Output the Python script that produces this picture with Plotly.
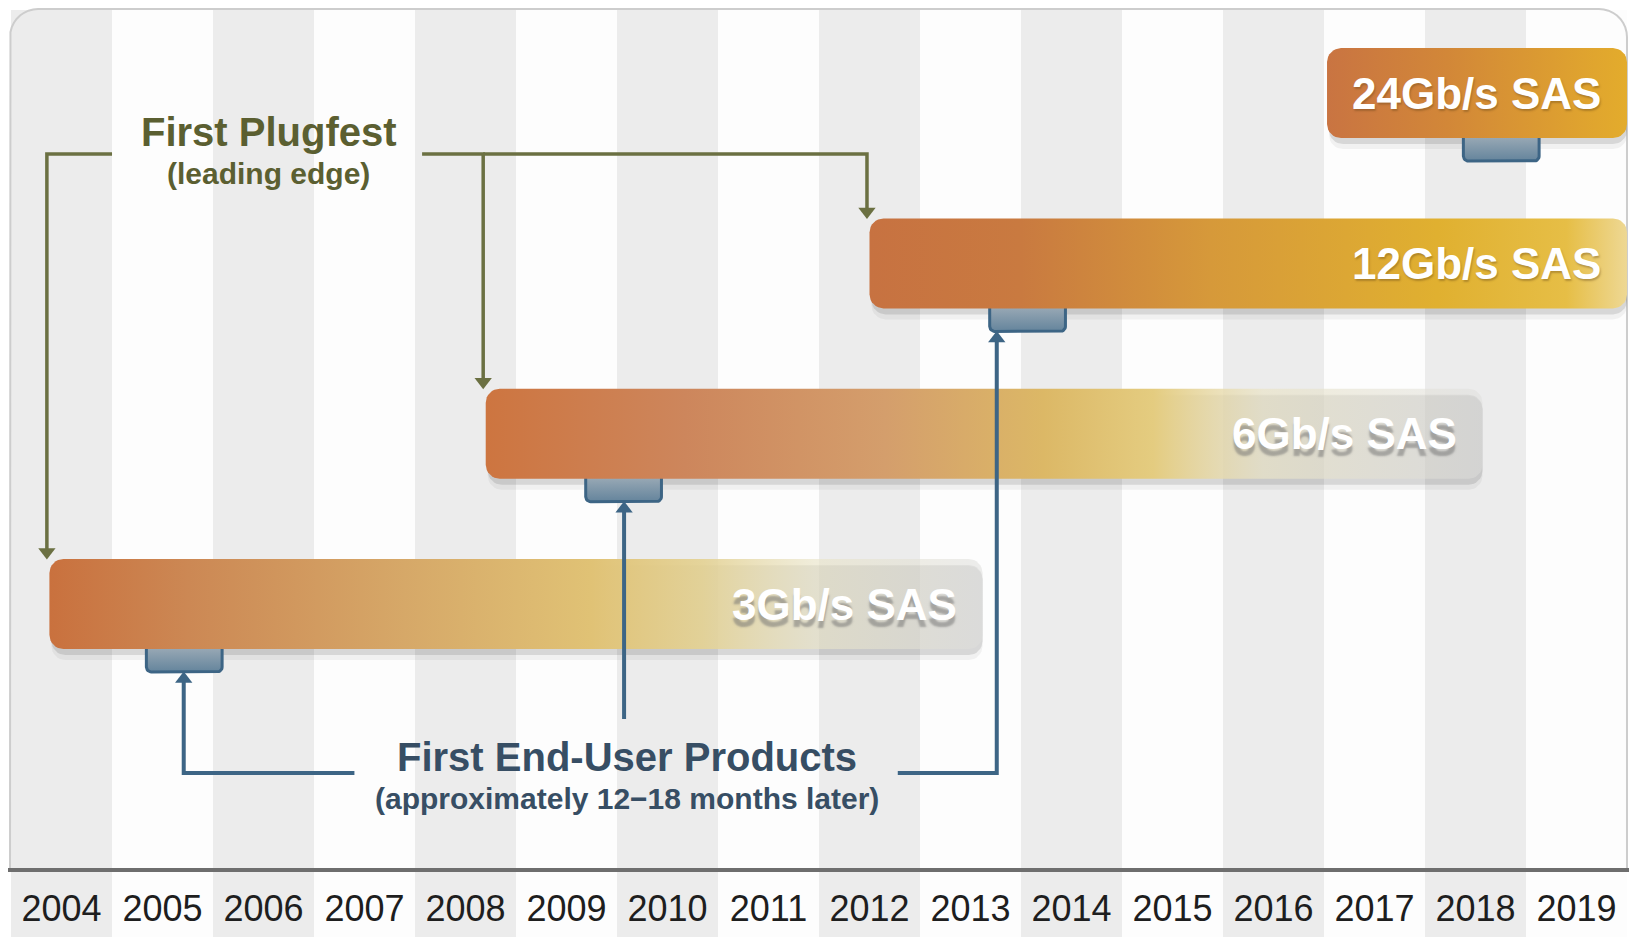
import numpy as np
import plotly.graph_objects as go

# ---------------- data ----------------
years = list(range(2004, 2020))
generations = ["3Gb/s SAS", "6Gb/s SAS", "12Gb/s SAS", "24Gb/s SAS"]
plugfest_start = [2003.88, 2008.20, 2012.00, 2016.53]   # first plugfest (bar start)
bar_end = [2013.12, 2018.07, 2019.50, 2019.50]
first_products = [2004.84, 2009.19, 2013.19, 2017.88]  # first end-user products

# ---------------- geometry helpers (layout only) ----------------
W, H = 1633, 937
ML, MR, MT, MB = 8, 4, 0, 69
X0, X1 = 2003.47, 2019.52
PXX = (W - ML - MR) / (X1 - X0)          # px per year
ROW_PX = 170.3                            # px per row unit
PLOT_H = H - MT - MB
Y_TOP = 604 / ROW_PX
Y_BOT = Y_TOP - PLOT_H / ROW_PX
PXY = ROW_PX


def py(px_from_top):
    return Y_TOP - px_from_top / PXY


def rrect(x0, x1, yc, h_px, r_px, n=9):
    w = (x1 - x0) * PXX
    r = min(r_px, h_px / 2, w / 2)
    top, bot = h_px / 2, -h_px / 2
    corners = [(w - r, top - r, 0, 90), (r, top - r, 90, 180),
               (r, bot + r, 180, 270), (w - r, bot + r, 270, 360)]
    pts = []
    for cx, cy, a0, a1 in corners:
        for a in np.linspace(a0, a1, n):
            pts.append((cx + r * np.cos(np.radians(a)), cy + r * np.sin(np.radians(a))))
    pts.append(pts[0])
    return [x0 + p[0] / PXX for p in pts], [yc + p[1] / PXY for p in pts]


FONT = "Liberation Sans, Arial, sans-serif"
GREEN = "#6b7042"
GREEN_TXT = "#5b5f31"
BLUE = "#3d6585"
BLUE_TXT = "#374e64"
BAR_H = 90
TAB_W = 0.75

grads = [
    [[0, "rgb(201,113,62)"], [0.15, "rgb(204,136,84)"], [0.38, "rgb(214,168,104)"],
     [0.58, "rgb(224,194,117)"], [0.70, "rgba(228,210,148,0.92)"],
     [0.82, "rgba(233,228,200,0.65)"], [1, "rgba(222,222,220,0.55)"]],
    [[0, "rgb(205,117,64)"], [0.2, "rgb(205,134,92)"], [0.40, "rgb(212,158,108)"],
     [0.56, "rgb(220,184,102)"], [0.67, "rgb(228,204,128)"],
     [0.78, "rgba(234,228,200,0.7)"], [1, "rgba(222,222,220,0.5)"]],
    [[0, "rgb(199,114,65)"], [0.2, "rgb(201,122,64)"], [0.45, "rgb(214,153,58)"],
     [0.75, "rgb(224,176,48)"], [0.92, "rgb(230,190,70)"], [1, "rgb(238,216,148)"]],
    [[0, "rgb(201,116,66)"], [0.4, "rgb(210,135,56)"], [1, "rgb(227,172,44)"]],
]

fig = go.Figure()

# frame
fx, fy = [], []
left, right = 2003.49, 2019.50
top_px, bot_px, rad = 9, 868, 28
fx.append(left); fy.append(py(bot_px))
for a in np.linspace(180, 90, 10):
    fx.append(left + (rad + rad * np.cos(np.radians(a))) / PXX)
    fy.append(py(top_px + rad - rad * np.sin(np.radians(a))))
for a in np.linspace(90, 0, 10):
    fx.append(right - (rad - rad * np.cos(np.radians(a))) / PXX)
    fy.append(py(top_px + rad - rad * np.sin(np.radians(a))))
fx.append(right); fy.append(py(bot_px))
fig.add_trace(go.Scatter(x=fx, y=fy, mode="lines", line=dict(color="#cdcdcd", width=2),
                         hoverinfo="skip", showlegend=False))

half = BAR_H / 2 / PXY
for i, g in enumerate(generations):
    # shadows
    for off, extra, alpha in [(9, 4, 0.07), (6, 0, 0.16)]:
        sx, sy = rrect(plugfest_start[i] + 0.02, bar_end[i], i - off / PXY, BAR_H + extra, 14)
        fig.add_trace(go.Scatter(x=sx, y=sy, mode="lines", fill="toself",
                                 fillcolor=f"rgba(80,80,80,{alpha})", line=dict(width=0),
                                 hoverinfo="skip", showlegend=False))
    # product tab
    bottom = i - half
    tx, ty = rrect(first_products[i], first_products[i] + TAB_W, bottom - 6.5 / PXY, 33, 5)
    fig.add_trace(go.Scatter(x=tx, y=ty, mode="lines", fill="toself",
                             fillgradient=dict(type="vertical",
                                               colorscale=[[0, "rgb(100,132,156)"], [1, "rgb(172,182,190)"]]),
                             line=dict(color=BLUE, width=3), hoverinfo="skip", showlegend=False))
    # bar
    bx, by = rrect(plugfest_start[i], bar_end[i], i, BAR_H, 14)
    fig.add_trace(go.Scatter(x=bx, y=by, mode="lines", fill="toself",
                             fillgradient=dict(type="horizontal", colorscale=grads[i]),
                             line=dict(width=0), hoverinfo="skip", showlegend=False))

# ---------- green arrows (first plugfest) ----------
g_y = py(154)
AH = 7  # arrow marker radius px


def add_line(xs, ys, color, width):
    fig.add_trace(go.Scatter(x=xs, y=ys, mode="lines", line=dict(color=color, width=width),
                             hoverinfo="skip", showlegend=False))


def add_head(x, y, sym, color, size):
    fig.add_trace(go.Scatter(x=[x], y=[y], mode="markers",
                             marker=dict(symbol=sym, size=size, color=color),
                             hoverinfo="skip", showlegend=False))


gx = [plugfest_start[k] - 0.025 for k in range(3)]
tops = [k + half for k in range(3)]
add_line([2004.50, gx[0], gx[0]], [g_y, g_y, tops[0] + AH / PXY], GREEN, 3.5)
add_line([2007.57, gx[1], gx[1]], [g_y, g_y, tops[1] + AH / PXY], GREEN, 3.5)
add_line([gx[1], gx[2], gx[2]], [g_y, g_y, tops[2] + AH / PXY], GREEN, 3.5)
for k in range(3):
    add_head(gx[k], tops[k] + AH / PXY, "triangle-down", GREEN, 15)

# ---------- blue arrows (first products) ----------
b_y = py(773)
bx_off = [0.37, 0.38, 0.07]
bxs = [first_products[k] + bx_off[k] for k in range(3)]
tab_bot = [k - half - 23 / PXY for k in range(3)]
add_line([2006.90, bxs[0], bxs[0]], [b_y, b_y, tab_bot[0] - AH / PXY], BLUE, 4)
add_line([bxs[1], bxs[1]], [py(719), tab_bot[1] - AH / PXY], BLUE, 4)
add_line([2012.28, bxs[2], bxs[2]], [b_y, b_y, tab_bot[2] - AH / PXY], BLUE, 4)
for k in range(3):
    add_head(bxs[k], tab_bot[k] - AH / PXY, "triangle-up", BLUE, 15)

# ---------- background columns ----------
shapes = []
for yr in years:
    shapes.append(dict(type="rect", xref="x", yref="paper", x0=yr - 0.5, x1=yr + 0.5,
                       y0=-MB / PLOT_H, y1=(PLOT_H - 10) / PLOT_H, layer="below",
                       line=dict(width=0),
                       fillcolor="#ececec" if yr % 2 == 0 else "#fdfdfd"))

annotations = []
for i, g in enumerate(generations):
    faded = i < 2
    annotations.append(dict(
        x=bar_end[i] - 24 / PXX, y=i, xref="x", yref="y", text=g, showarrow=False,
        xanchor="right", yanchor="middle",
        font=dict(family=FONT, size=44, color="white", weight="bold",
                  shadow=("0px 7px 2px rgba(110,110,110,0.5)" if faded
                          else "1px 2px 2px rgba(90,60,20,0.35)"))))

annotations += [
    dict(x=2006.05, y=py(132), xref="x", yref="y", text="First Plugfest", showarrow=False,
         font=dict(family=FONT, size=40, color=GREEN_TXT, weight="bold")),
    dict(x=2006.05, y=py(173), xref="x", yref="y", text="(leading edge)", showarrow=False,
         font=dict(family=FONT, size=30, color=GREEN_TXT, weight="bold")),
    dict(x=2009.60, y=py(757), xref="x", yref="y", text="First End-User Products", showarrow=False,
         font=dict(family=FONT, size=40, color=BLUE_TXT, weight="bold")),
    dict(x=2009.60, y=py(798), xref="x", yref="y", text="(approximately 12\u221218 months later)",
         showarrow=False, font=dict(family=FONT, size=30, color=BLUE_TXT, weight="bold")),
]

fig.update_layout(
    width=W, height=H, margin=dict(l=ML, r=MR, t=MT, b=MB),
    paper_bgcolor="white", plot_bgcolor="rgba(0,0,0,0)",
    shapes=shapes, annotations=annotations, showlegend=False,
    xaxis=dict(range=[X0, X1], tickvals=years, ticktext=[str(y) for y in years],
               showgrid=False, zeroline=False, showline=True, linecolor="#6e6e6e", linewidth=4,
               ticks="", tickfont=dict(family=FONT, size=36, color="#1e1e1e"),
               ticklabelstandoff=6, fixedrange=True),
    yaxis=dict(range=[Y_BOT, Y_TOP], visible=False, fixedrange=True),
)

fig.write_html("out.html", config={"displayModeBar": False},
               post_script="document.body.style.margin='0px';document.body.style.overflow='hidden';")
